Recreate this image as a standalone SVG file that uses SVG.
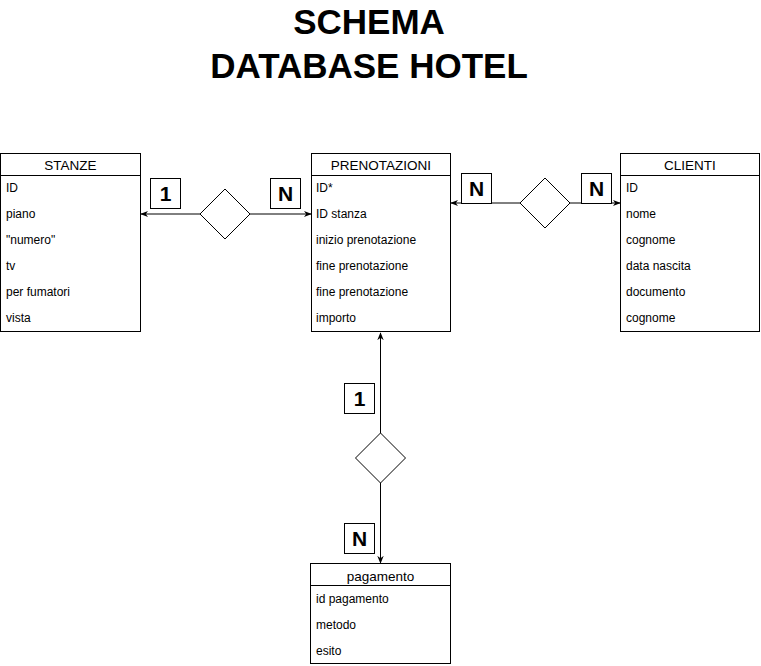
<svg xmlns="http://www.w3.org/2000/svg" width="761" height="666" viewBox="0 0 761 666">
<defs>
<style>
.box{fill:#fff;stroke:#000;stroke-width:1}
.hd{font-family:"Liberation Sans",Arial,sans-serif;font-size:13.5px;fill:#000;text-anchor:middle}
.f{font-family:"Liberation Sans",Arial,sans-serif;font-size:12px;fill:#000}
.lbl{font-family:"Liberation Sans",Arial,sans-serif;font-size:21px;font-weight:bold;fill:#000;text-anchor:middle}
.ttl{font-family:"Liberation Sans",Arial,sans-serif;font-size:35px;font-weight:bold;fill:#000;text-anchor:middle}
.ln{fill:none;stroke:#000;stroke-width:1}
.dm{fill:#fff;stroke:#000;stroke-width:1}
</style>
<marker id="ar" viewBox="0 0 10 10" refX="9" refY="5" markerWidth="8" markerHeight="8" markerUnits="userSpaceOnUse" orient="auto">
<path d="M0,1 L10,5 L0,9 L3,5 Z" fill="#000"/>
</marker>
</defs>
<rect width="761" height="666" fill="#fff"/>
<g id="title">
<text class="ttl" x="369" y="34">SCHEMA</text>
<text class="ttl" x="369" y="78">DATABASE HOTEL</text>
</g>
<g id="connectors">
<line class="ln" x1="200" y1="214" x2="141" y2="214" marker-end="url(#ar)"/>
<line class="ln" x1="250" y1="214" x2="311" y2="214" marker-end="url(#ar)"/>
<polygon class="dm" points="225,189 250,214 225,239 200,214"/>
<line class="ln" x1="520" y1="203" x2="451" y2="203" marker-end="url(#ar)"/>
<line class="ln" x1="570" y1="203" x2="620" y2="203" marker-end="url(#ar)"/>
<polygon class="dm" points="545,178 570,203 545,228 520,203"/>
<line class="ln" x1="380.5" y1="433" x2="380.5" y2="333" marker-end="url(#ar)"/>
<line class="ln" x1="380.5" y1="483" x2="380.5" y2="563" marker-end="url(#ar)"/>
<polygon class="dm" points="380.5,433 405.5,458 380.5,483 355.5,458"/>
<rect class="box" x="150.5" y="178.5" width="30" height="30"/>
<text class="lbl" x="165.5" y="201">1</text>
<rect class="box" x="270.5" y="178.5" width="30" height="30"/>
<text class="lbl" x="285.5" y="201">N</text>
<rect class="box" x="461.5" y="173.5" width="30" height="30"/>
<text class="lbl" x="476.5" y="196">N</text>
<rect class="box" x="581.5" y="173.5" width="30" height="30"/>
<text class="lbl" x="596.5" y="196">N</text>
<rect class="box" x="344.5" y="383.5" width="30" height="30"/>
<text class="lbl" x="359.5" y="406">1</text>
<rect class="box" x="344.5" y="523.5" width="30" height="30"/>
<text class="lbl" x="359.5" y="546">N</text>
</g>
<g id="stanze">
<rect class="box" x="0.5" y="153.5" width="140" height="178"/>
<line class="ln" x1="0.5" y1="175.5" x2="140.5" y2="175.5"/>
<text class="hd" x="70.5" y="169.5">STANZE</text>
<text class="f" x="6" y="192">ID</text>
<text class="f" x="6" y="218">piano</text>
<text class="f" x="6" y="244">"numero"</text>
<text class="f" x="6" y="270">tv</text>
<text class="f" x="6" y="296">per fumatori</text>
<text class="f" x="6" y="322">vista</text>
</g>
<g id="prenotazioni">
<rect class="box" x="311.5" y="153.5" width="139" height="178"/>
<line class="ln" x1="311.5" y1="175.5" x2="450.5" y2="175.5"/>
<text class="hd" x="381" y="169.5">PRENOTAZIONI</text>
<text class="f" x="316" y="192">ID*</text>
<text class="f" x="316" y="218">ID stanza</text>
<text class="f" x="316" y="244">inizio prenotazione</text>
<text class="f" x="316" y="270">fine prenotazione</text>
<text class="f" x="316" y="296">fine prenotazione</text>
<text class="f" x="316" y="322">importo</text>
</g>
<g id="clienti">
<rect class="box" x="620.5" y="153.5" width="139" height="178"/>
<line class="ln" x1="620.5" y1="175.5" x2="759.5" y2="175.5"/>
<text class="hd" x="690" y="169.5">CLIENTI</text>
<text class="f" x="626" y="192">ID</text>
<text class="f" x="626" y="218">nome</text>
<text class="f" x="626" y="244">cognome</text>
<text class="f" x="626" y="270">data nascita</text>
<text class="f" x="626" y="296">documento</text>
<text class="f" x="626" y="322">cognome</text>
</g>
<g id="pagamento">
<rect class="box" x="310.5" y="563.5" width="140" height="100"/>
<line class="ln" x1="310.5" y1="585.5" x2="450.5" y2="585.5"/>
<text class="hd" x="380.5" y="580.5">pagamento</text>
<text class="f" x="316" y="603">id pagamento</text>
<text class="f" x="316" y="629">metodo</text>
<text class="f" x="316" y="655">esito</text>
</g>
</svg>
